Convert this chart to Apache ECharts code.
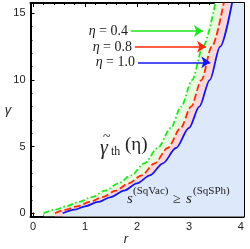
<!DOCTYPE html>
<html><head><meta charset="utf-8">
<script src="https://cdn.jsdelivr.net/npm/echarts@6/dist/echarts.min.js"></script>
<style>html,body{margin:0;padding:0;background:#fff;}#c{width:250px;height:249px;}</style>
</head><body><div id="c"></div>
<script>
// ---- data ----
var blueR  = [0.57, 0.80, 1.00, 1.25, 1.50, 1.75, 2.00, 2.25, 2.50, 2.75, 3.00, 3.20, 3.40, 3.60, 3.83];
var blueG  = [0.00, 0.28, 0.52, 0.85, 1.22, 1.70, 2.25, 2.85, 3.75, 4.90, 6.40, 8.00, 10.0, 12.5, 15.8];
var redR   = [0.42, 0.64, 0.84, 1.09, 1.34, 1.59, 1.84, 2.09, 2.34, 2.59, 2.84, 3.04, 3.24, 3.44, 3.67];
var redG   = [0.00, 0.28, 0.52, 0.85, 1.22, 1.70, 2.25, 2.85, 3.75, 4.90, 6.40, 8.00, 10.0, 12.5, 15.8];
var greenR = [0.20, 0.43, 0.63, 0.88, 1.13, 1.39, 1.64, 1.89, 2.14, 2.40, 2.65, 2.85, 3.06, 3.27, 3.51];
var greenG = [0.00, 0.28, 0.52, 0.85, 1.22, 1.70, 2.25, 2.85, 3.75, 4.90, 6.40, 8.00, 10.0, 12.5, 15.8];
var etaLabels = ['0.4', '0.8', '1.0'];
var xTicks = [0, 1, 2, 3, 4];
var yTicks = [0, 5, 10, 15];

var X_MIN = -0.05, X_MAX = 4.05, Y_MIN = -0.24, Y_MAX = 15.78;

function pairs(rs, gs){ return rs.map(function(r,i){ return [r, gs[i]]; }); }
function fillPts(rs, gs){
  var p = pairs(rs, gs);
  var last = p[p.length-1];
  p.push([last[0] + 0.08, Y_MAX + 1.5]);
  p.push([X_MAX + 0.5, Y_MAX + 1.5]);
  return p;
}
var xMinor = [], yMinor = [];
for (var i = 0; i <= 20; i++) { var v = +(i*0.2).toFixed(2); if (i % 5) xMinor.push(v); }
for (var j = 0; j <= 15; j++) { if (j % 5) yMinor.push(j); }

var chart = echarts.init(document.getElementById('c'), null, {renderer:'canvas'});
function axisLine(show){ return {show:show, onZero:false, lineStyle:{color:'#000', width:2}}; }
function xa(pos, ticks, len, labels, line){
  return {type:'value', min:X_MIN, max:X_MAX, position:pos,
    axisLine: axisLine(line),
    axisTick:{show:true, inside:true, length:len, customValues:ticks, lineStyle:{color:'#000', width:1}},
    axisLabel: labels ? {show:true, customValues:ticks, margin:5, fontSize:11, color:'#222', fontFamily:'Liberation Sans'} : {show:false},
    splitLine:{show:false}};
}
function ya(pos, ticks, len, labels, line){
  return {type:'value', min:Y_MIN, max:Y_MAX, position:pos,
    axisLine: axisLine(line),
    axisTick:{show:true, inside:true, length:len, customValues:ticks, lineStyle:{color:'#000', width:1}},
    axisLabel: labels ? {show:true, customValues:ticks, margin:5, fontSize:11, color:'#222', fontFamily:'Liberation Sans'} : {show:false},
    splitLine:{show:false}};
}
function fillSeries(rs, gs, color){
  return {type:'line', data:fillPts(rs, gs), smooth:0.3, smoothMonotone:'x', symbol:'none', silent:true,
    lineStyle:{width:0, opacity:0}, areaStyle:{color:color, opacity:1, origin:'start'}, z:1};
}
function arrow(x1, x2, y, color){
  return {symbol:['none','arrow'], symbolSize:9, silent:true, label:{show:false},
    lineStyle:{type:'solid', width:1.6, color:color, opacity:1},
    data:[[{coord:[x1, y]}, {coord:[x2, y]}]]};
}
function curve(rs, gs, color, type, mk){
  return {type:'line', data:pairs(rs, gs), smooth:0.3, smoothMonotone:'x', symbol:'none', silent:true,
    lineStyle:{color:color, width:1.8, type:type}, z:3, markLine:mk};
}
var serifTxt = function(x, y, t, size, italic, align){
  return {type:'text', x:x, y:y, z:100, silent:true, style:{text:t, fontSize:size, fontFamily:'Liberation Serif',
    fontStyle: italic ? 'italic' : 'normal', fill:'#222', align: align || 'left', verticalAlign:'middle'}};
};
function etaTxt(x, y, val){
  var st = {fontSize:14, fontFamily:'Liberation Serif', fill:'#222'};
  return {type:'text', x:x, y:y, z:100, silent:true, style:{rich:{i:Object.assign({fontStyle:'italic'}, st), n:st},
    text:'{i|η}{n| = ' + val + '}', align:'right', verticalAlign:'middle'}};
}
var GREEN = '#1ee61e', RED = '#ff2a0a', BLUE = '#1515f0';
chart.setOption({
  animation:false,
  grid:{left:30.5, right:6.5, top:3, bottom:32.5, containLabel:false},
  xAxis:[xa('bottom', xTicks, 4, true, true), xa('top', xTicks, 4, false, true),
         xa('bottom', xMinor, 2, false, false), xa('top', xMinor, 2, false, false)],
  yAxis:[ya('left', yTicks, 4, true, true), ya('right', yTicks, 4, false, true),
         ya('left', yMinor, 2, false, false), ya('right', yMinor, 2, false, false)],
  series:[
    fillSeries(greenR, greenG, '#e4fbde'),
    fillSeries(redR, redG, '#ffd6d6'),
    fillSeries(blueR, blueG, '#dde9fb'),
    curve(greenR, greenG, GREEN, [6,2.5,1.5,2.5], arrow(1.88, 3.27, 13.68, GREEN)),
    curve(redR, redG, RED, [7,3], arrow(1.96, 3.33, 12.5, RED)),
    curve(blueR, blueG, BLUE, 'solid', arrow(2.02, 3.41, 11.33, BLUE))
  ],
  graphic:[
    etaTxt(128, 31, etaLabels[0]),
    etaTxt(132, 47, etaLabels[1]),
    etaTxt(135, 62.5, etaLabels[2]),
    serifTxt(100, 149, 'γ', 20, true),
    serifTxt(103, 137, '~', 14, false),
    serifTxt(111, 152, 'th', 12, false),
    serifTxt(125, 145, '(η)', 19, false),
    serifTxt(127, 199, 's', 15, true),
    serifTxt(133, 191.5, '(SqVac)', 11, false),
    serifTxt(173, 199, '≥', 14, false),
    serifTxt(186, 199, 's', 15, true),
    serifTxt(193, 191.5, '(SqSPh)', 11, false),
    {type:'text', x:8, y:110, z:100, silent:true, style:{text:'γ', fontSize:13, fontFamily:'Liberation Sans', fontStyle:'italic', fill:'#222', align:'center', verticalAlign:'middle'}},
    {type:'text', x:126, y:239, z:100, silent:true, style:{text:'r', fontSize:13, fontFamily:'Liberation Sans', fontStyle:'italic', fill:'#222', align:'center', verticalAlign:'middle'}}
  ]
});
</script></body></html>
